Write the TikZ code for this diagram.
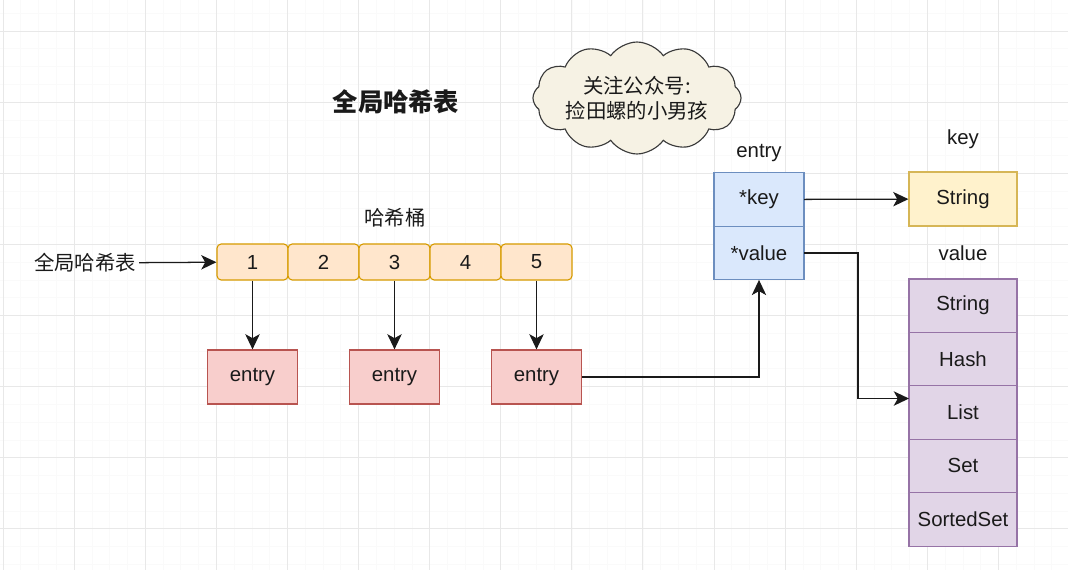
\documentclass[tikz,border=0pt]{standalone}
\usepackage{fontspec}
\setmainfont{Liberation Sans}
\newfontfamily\cjk{Noto Sans CJK SC}
\usetikzlibrary{arrows.meta,positioning,shapes.symbols}
\definecolor{Ink}{HTML}{1A1A1A}
\definecolor{BucketFill}{HTML}{FFE6CC}
\definecolor{BucketLine}{HTML}{D79B00}
\definecolor{EntryFill}{HTML}{F8CECC}
\definecolor{EntryLine}{HTML}{B85450}
\definecolor{PtrFill}{HTML}{DAE8FC}
\definecolor{PtrLine}{HTML}{6C8EBF}
\definecolor{KeyFill}{HTML}{FFF2CC}
\definecolor{KeyLine}{HTML}{D6B656}
\definecolor{TypeFill}{HTML}{E1D5E7}
\definecolor{TypeLine}{HTML}{9673A6}
\definecolor{CloudFill}{HTML}{F6F2E4}
\definecolor{CloudLine}{HTML}{3A3A3A}
\definecolor{GridMajor}{HTML}{E8E8E8}
\definecolor{GridMinor}{HTML}{FAFAFA}
\tikzset{
  txt/.style={text=Ink, font=\fontsize{14.5}{17.5}\selectfont, inner sep=2pt},
  cjktxt/.style={text=Ink, font=\cjk\fontsize{14.5}{17.5}\selectfont, inner sep=2pt},
  bucket/.style={txt, rounded corners=3pt, draw=BucketLine, fill=BucketFill,
    line width=0.8pt, minimum width=1.775cm, minimum height=0.9cm},
  entrybox/.style={txt, draw=EntryLine, fill=EntryFill, line width=0.8pt,
    minimum width=2.25cm, minimum height=1.35cm},
  ptrbox/.style={txt, draw=PtrLine, fill=PtrFill, line width=0.8pt,
    minimum width=2.25cm, minimum height=1.34cm, outer sep=0pt},
  keybox/.style={txt, draw=KeyLine, fill=KeyFill, line width=0.8pt,
    minimum width=2.7cm, minimum height=1.35cm},
  typebox/.style={txt, draw=TypeLine, fill=TypeFill, line width=0.8pt,
    minimum width=2.7cm, minimum height=1.335cm, outer sep=0pt},
  notecloud/.style={cjktxt, cloud, cloud puffs=12, cloud puff arc=110, aspect=2.3,
    draw=CloudLine, fill=CloudFill, line width=0.8pt, inner sep=0pt,
    minimum width=5.2cm, minimum height=2.5cm, align=center},
  flow/.style={-{Stealth[length=3.8mm,width=3.6mm,inset=1mm]}, line width=0.9pt, draw=Ink}
}
\begin{document}
\begin{tikzpicture}[x=0.025cm,y=-0.025cm]
  \useasboundingbox (0,0) rectangle (1068,570);
  \fill[white] (0,0) rectangle (1068,570);
  % grid
  \foreach \gx in {0,...,60}
    \draw[GridMinor, line width=0.4pt] ({3+17.775*\gx},0) -- ({3+17.775*\gx},570);
  \foreach \gy in {-1,...,31}
    \draw[GridMinor, line width=0.4pt] (0,{31+17.775*\gy}) -- (1068,{31+17.775*\gy});
  \foreach \gx in {0,...,15}
    \draw[GridMajor, line width=0.7pt] ({3+71.1*\gx},0) -- ({3+71.1*\gx},570);
  \foreach \gy in {0,...,7}
    \draw[GridMajor, line width=0.7pt] (0,{31+71.1*\gy}) -- (1068,{31+71.1*\gy});

  % titles and note
  \node[cjktxt, font=\cjk\bfseries\fontsize{18}{21}\selectfont] (title) at (396,102) {全局哈希表};
  \node[notecloud] (note) at (637,98) {关注公众号:\\捡田螺的小男孩};

  % hash buckets
  \node[cjktxt] (bucketlbl) at (395,218) {哈希桶};
  \foreach \i in {1,...,5}
    \node[bucket] (b\i) at ({252.5+71*(\i-1)},262) {\i};
  \node[cjktxt] (gtab) at (85,263) {全局哈希表};
  \draw[flow] (gtab) -- (b1);

  % entries
  \node[entrybox, below=1.72cm of b1] (e1) {entry};
  \node[entrybox, below=1.72cm of b3] (e2) {entry};
  \node[entrybox, below=1.72cm of b5] (e3) {entry};
  \draw[flow] (b1) -- (e1);
  \draw[flow] (b3) -- (e2);
  \draw[flow] (b5) -- (e3);

  % entry structure
  \node[ptrbox] (kptr) at (759,199.5) {*key};
  \node[ptrbox, below=0pt of kptr] (vptr) {*value};
  \node[txt, above=0.2cm of kptr] (entrylbl) {entry};
  \draw[flow] (e3.east) -| (vptr.south);

  % key and value objects
  \node[keybox] (kstr) at (963,199) {String};
  \node[txt] (keylbl) at (963,139) {key};
  \node[txt] (vallbl) at (963,253) {value};
  \node[typebox] (tstr) at (963,305.7) {String};
  \node[typebox, below=0pt of tstr] (thash) {Hash};
  \node[typebox, below=0pt of thash] (tlist) {List};
  \node[typebox, below=0pt of tlist] (tset) {Set};
  \node[typebox, below=0pt of tset] (tzset) {SortedSet};
  \draw[flow] (kptr) -- (kstr);
  \draw[flow] (vptr.east) -- ++(54,0) |- ([yshift=0.35cm]tlist.west);
\end{tikzpicture}
\end{document}
